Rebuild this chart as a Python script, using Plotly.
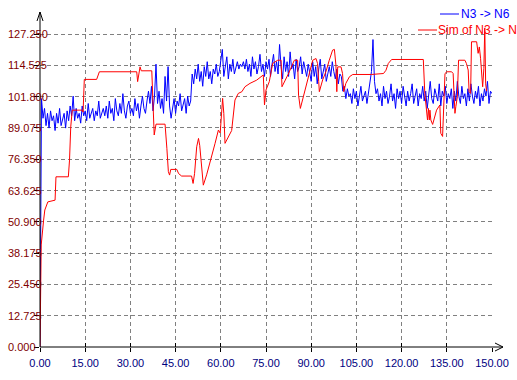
import plotly.graph_objects as go

# ---------------- data ----------------
# Blue series "N3 -> N6", sampled evenly from t=0 to t=150
blue_start = [0]
blue_a = [101, 93, 97, 90, 95, 89, 96, 92, 94, 88, 95, 91, 97, 90, 93, 95, 89, 96, 92, 98, 94]
blue_b = [102, 92, 97, 93, 95, 91, 98, 94, 96, 92, 99, 93, 95, 97, 92, 96, 94, 100, 93, 95, 97]
blue_c = [94, 98, 93, 100, 95, 97, 92, 101, 96, 94, 99, 95, 103, 96, 93, 98, 100, 95, 97, 94,
          101, 96, 99, 93, 98, 102, 97, 95, 100, 104, 99]
blue_d = [106, 96, 102, 115, 99, 104, 97, 101, 95, 110, 100, 114, 98, 93]
blue_e = [97, 101, 95, 100, 98, 103, 96, 99, 101, 95, 102, 98, 100]
blue_f = [111, 107, 113, 109, 115, 108, 112, 106, 114, 110, 116, 109, 112, 107, 113, 111, 115, 110]
blue_g = [112, 116, 121, 110, 114, 118, 109, 115, 112, 117, 111, 114, 116, 113, 115, 114, 116, 113,
          117, 112, 115, 110, 118, 113, 116, 111, 114, 119, 112, 115, 110, 116]
blue_h = [113, 117, 110, 115, 119, 112, 116, 111, 123, 114, 109, 118, 112, 116, 110, 120, 113, 115,
          109, 117, 112, 114, 118, 111, 116, 113, 110, 115]
blue_i = [112, 108, 116, 110, 114, 107, 113, 117, 109, 112, 115, 108, 111, 114, 110, 116, 112, 109,
          113, 107, 111, 110]
blue_j = [104, 106, 101, 105, 102]
blue_k = [103, 99, 105, 101, 104, 98, 103, 106, 100, 102, 104, 99, 103]
blue_l = [106, 112, 125, 108, 103]
blue_m = [105, 100, 103, 98, 106, 101, 104, 99, 102, 107,
          100, 103, 97, 105, 101, 104, 99, 106, 102, 98,
          104, 100, 103, 107, 99, 102, 105, 98, 103, 101,
          106, 100, 104, 97, 102, 108, 101, 99, 105, 103,
          100, 107, 98, 104, 102, 106, 99, 103, 101, 105,
          97, 104, 100, 108, 102, 99, 106, 101, 103, 98,
          105, 100, 107, 102, 99, 104, 101, 106, 98, 103,
          100, 105, 102, 108, 99, 104, 103]
blue_v = (blue_start + blue_a + blue_b + blue_c + blue_d + blue_e + blue_f + blue_g +
          blue_h + blue_i + blue_j + blue_k + blue_l + blue_m)
blue_t = [i * 150.0 / (len(blue_v) - 1) for i in range(len(blue_v))]

# Red series "Sim of N3 -> N6"
red_t = [0, 0.2, 0.4, 1.2, 1.6, 2.6, 5.0, 5.3, 9.4, 9.8, 10.2, 10.7, 14.0, 14.3, 14.7, 18.8, 19.7,
         32.1, 32.4, 33.2, 33.6, 37.1, 37.5, 37.9, 38.5, 41.5, 42.1, 42.6, 43.0, 43.4, 45.4, 46.0,
         47.0, 50.3, 50.8, 51.3, 52.0, 52.6, 53.0, 53.7, 54.2, 55.3, 56.4, 57.3, 58.1, 59.2, 59.8,
         60.6, 61.0, 61.4, 62.2, 63.0, 63.6, 64.7, 65.8, 67.0, 68.0, 69.7, 71.9, 74.1, 74.5, 75.0,
         76.1, 77.2, 78.9, 80.0, 80.3, 82.4, 84.4, 85.5, 85.8, 86.4, 87.2, 88.3, 89.9, 90.5, 91.6,
         92.1, 92.5, 92.7, 93.8, 94.9, 96.0, 97.1, 97.7, 98.2, 98.5, 98.8, 99.9, 100.4, 100.8,
         101.5, 102.7, 103.8, 110.0, 111.5, 114.0, 114.8, 115.6, 116.7, 127.2, 127.7, 128.3,
         128.6, 128.9, 129.2, 129.4, 129.7, 130.3, 131.0, 131.6, 132.7, 133.0, 133.6, 134.4,
         135.0, 136.6, 137.1, 137.7, 138.0, 138.5, 138.9, 141.0, 141.5, 142.1, 142.4, 142.9,
         143.2, 144.9, 145.4, 145.8, 146.2, 146.5, 146.9, 147.3, 147.6, 147.9, 148.2]
red_v = [0, 27, 41.5, 51.6, 55.7, 59, 59.7, 69.2, 69.2, 76, 89.5, 96.3, 96.3, 95.5, 108.8, 108.8,
         111.9, 111.9, 107.9, 113.9, 112.3, 112.3, 100, 86.2, 90.6, 90.6, 80.8, 71.3, 69.9, 72.2,
         72.2, 70.5, 69.5, 69.5, 66.5, 70.6, 81.4, 84.8, 82, 71.3, 65.8, 70, 74.7, 79, 82.8, 88.2,
         87, 101.1, 95, 82.8, 84.5, 86.2, 88, 100.4, 103.1, 103.8, 105.8, 107.2, 108.5, 110.6,
         98.4, 104.5, 107.9, 115.3, 116.6, 116.6, 105.8, 111, 116.6, 116.6, 102.4, 97, 101,
         105.8, 113.9, 116.6, 117.3, 115.3, 107.9, 103.8, 108.6, 112, 116.6, 120.7, 121, 114.6,
         103.8, 113.9, 113.9, 111.2, 103.8, 107.2, 109.9, 110.8, 110.8, 111.0, 111.2, 112.5,
         115.3, 116.9, 116.9, 103.1, 97, 92.3, 97, 92.3, 96.3, 92.3, 90.5, 93.6, 96.3, 98.4,
         86.9, 85.6, 111.2, 111.9, 111.9, 111.2, 95, 97.7, 101.7, 116.6, 116.6, 115.3, 112.6,
         103.8, 103.1, 124.1, 124.1, 119.4, 122, 117.4, 112, 105.8, 113.3, 130, 107, 104]

x_ticks = [0, 15, 30, 45, 60, 75, 90, 105, 120, 135, 150]
x_labels = ["0.00", "15.00", "30.00", "45.00", "60.00", "75.00", "90.00", "105.00",
            "120.00", "135.00", "150.00"]
y_ticks = [0, 12.725, 25.45, 38.175, 50.9, 63.625, 76.35, 89.075, 101.8, 114.525, 127.25]
y_labels = ["0.000", "12.725", "25.450", "38.175", "50.900", "63.625", "76.350", "89.075",
            "101.800", "114.525", "127.250"]

series_names = ["N3 -> N6", "Sim of N3 -> N6"]
series_colors = ["#0000FF", "#FF0000"]

# ---------------- layout geometry (pixels) ----------------
W, H = 517, 380
L, R, T, B = 40, 25, 28, 33
PW, PH = W - L - R, H - T - B


def px(x):
    return (x - L) / PW


def py(y):
    return (H - B - y) / PH


FONT = "Liberation Sans, Arial, sans-serif"

fig = go.Figure()
fig.add_trace(go.Scatter(x=blue_t, y=blue_v, mode="lines", name=series_names[0],
                         line=dict(color=series_colors[0], width=1), hoverinfo="skip"))
fig.add_trace(go.Scatter(x=red_t, y=red_v, mode="lines", name=series_names[1],
                         line=dict(color=series_colors[1], width=1), hoverinfo="skip"))
# dummy trace so the overlay axis (inner tick marks) gets drawn
fig.add_trace(go.Scatter(x=[None], y=[None], xaxis="x2", showlegend=False, hoverinfo="skip"))

grid = dict(showgrid=True, gridcolor="#808080", gridwidth=1, griddash="4px,3px",
            zeroline=False, showline=False)

fig.update_layout(
    width=W, height=H,
    margin=dict(l=L, r=R, t=T, b=B, autoexpand=False),
    paper_bgcolor="white", plot_bgcolor="white",
    showlegend=False,
    font=dict(family=FONT, size=11, color="black"),
    xaxis=dict(range=[0, 150], tickmode="array", tickvals=x_ticks, ticktext=x_labels,
               tickfont=dict(family=FONT, size=11, color="#000080"),
               ticks="outside", ticklen=4, tickcolor="black", tickwidth=1,
               ticklabelstandoff=2, **grid),
    xaxis2=dict(range=[0, 150], overlaying="x", anchor="y", side="bottom",
                tickmode="array", tickvals=x_ticks, showticklabels=False,
                ticks="inside", ticklen=4, tickcolor="black", tickwidth=1,
                showgrid=False, zeroline=False, showline=False),
    yaxis=dict(range=[0, 129.7], tickmode="array", tickvals=y_ticks, showticklabels=False,
               ticks="outside", ticklen=5, tickcolor="black", tickwidth=1, **grid),
)

# y tick labels, left aligned near the left edge
for v, lab in zip(y_ticks, y_labels):
    fig.add_annotation(x=0, xref="paper", y=v, yref="y", text=lab, showarrow=False,
                       xanchor="left", yanchor="middle", xshift=-34,
                       font=dict(family=FONT, size=11, color="#800000"))

# axis lines with arrow heads
shapes = [
    dict(type="line", xref="paper", yref="paper", x0=px(40), x1=px(503), y0=py(347), y1=py(347),
         line=dict(color="black", width=1)),
    dict(type="path", xref="paper", yref="paper",
         path=f"M {px(495)} {py(343)} L {px(503)} {py(347)} L {px(495)} {py(351)}",
         line=dict(color="black", width=1)),
    dict(type="line", xref="paper", yref="paper", x0=px(40), x1=px(40), y0=py(347), y1=py(12),
         line=dict(color="black", width=1)),
    dict(type="path", xref="paper", yref="paper",
         path=f"M {px(37)} {py(21)} L {px(40)} {py(12)} L {px(43)} {py(21)}",
         line=dict(color="black", width=1)),
    # legend lines
    dict(type="line", xref="paper", yref="paper", x0=px(440), x1=px(459), y0=py(14), y1=py(14),
         line=dict(color=series_colors[0], width=1)),
    dict(type="line", xref="paper", yref="paper", x0=px(418), x1=px(437), y0=py(30), y1=py(30),
         line=dict(color=series_colors[1], width=1)),
]
fig.update_layout(shapes=shapes)

fig.add_annotation(x=px(459), xref="paper", y=py(14), yref="paper", text=series_names[0],
                   showarrow=False, xanchor="left", yanchor="middle",
                   font=dict(family=FONT, size=12, color=series_colors[0]))
fig.add_annotation(x=px(436), xref="paper", y=py(30), yref="paper", text=series_names[1],
                   showarrow=False, xanchor="left", yanchor="middle",
                   font=dict(family=FONT, size=12, color=series_colors[1]))

fig.write_html("out.html", config={"displayModeBar": False},
               post_script="document.body.style.margin='0';document.body.style.padding='0';")
